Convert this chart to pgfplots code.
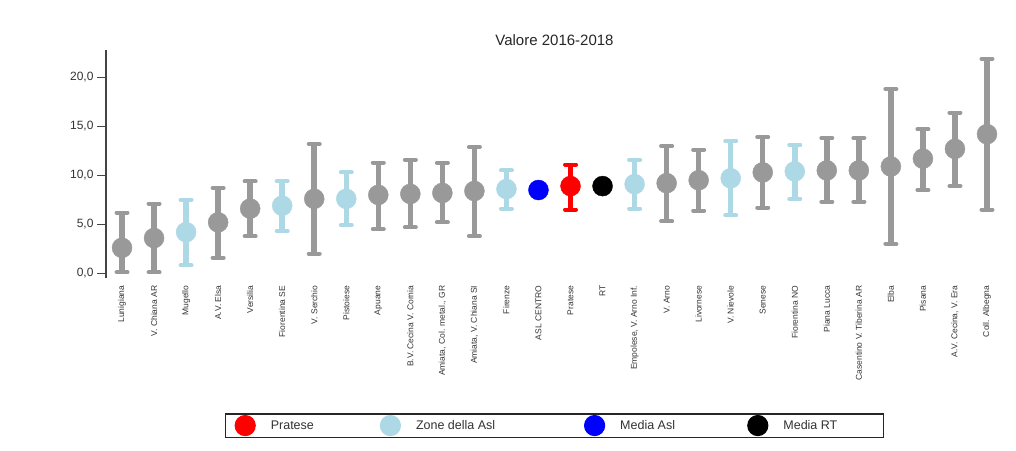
\documentclass[border=0pt]{standalone}
\usepackage{fontspec}
\setmainfont{Liberation Sans}
\usepackage{pgfplots}
\usepackage{pgfplotstable}
\pgfplotsset{compat=1.18}

\definecolor{grigio}{HTML}{999999}
\definecolor{azzurro}{HTML}{ADD8E6}
\definecolor{assi}{HTML}{444444}

% x, valore, limite inferiore, limite superiore
\pgfplotstableread{
x y lo hi
0 2.6 0.1 6.2
1 3.6 0.1 7.1
3 5.2 1.6 8.7
4 6.6 3.8 9.4
6 7.6 2.0 13.2
8 8.0 4.5 11.3
9 8.1 4.7 11.6
10 8.2 5.2 11.3
11 8.4 3.8 12.9
17 9.2 5.3 13.0
18 9.5 6.4 12.6
20 10.3 6.7 13.9
22 10.5 7.3 13.8
23 10.5 7.3 13.8
24 10.9 3.0 18.8
25 11.7 8.5 14.7
26 12.7 8.9 16.4
27 14.2 6.5 21.9
}\altre
\pgfplotstableread{
x y lo hi
2 4.2 0.8 7.5
5 6.9 4.3 9.4
7 7.6 4.9 10.3
12 8.6 6.6 10.5
16 9.1 6.6 11.6
19 9.7 5.9 13.5
21 10.4 7.6 13.1
}\zone
\pgfplotstableread{
x y lo hi
14 8.9 6.5 11.1
}\pratese

\begin{document}
\begin{tikzpicture}
\useasboundingbox (0,0) rectangle (1016pt,450pt);
\begin{axis}[
  at={(106pt,171.8pt)}, anchor=south west,
  scale only axis, width=897pt, height=228.3pt,
  clip=false,
  xmin=-0.5, xmax=27.5, ymin=-0.5, ymax=22.8,
  axis y line*=left, axis x line*=bottom,
  x axis line style={draw=none},
  y axis line style={line width=2pt, color=assi},
  xtick={0,...,27},
  xticklabels={Lunigiana, V. Chiana AR, Mugello, A.V. Elsa, Versilia, Fiorentina SE,
    V. Serchio, Pistoiese, Apuane, B.V. Cecina V. Cornia, {Amiata, Col. metal., GR},
    {Amiata, V. Chiana SI}, Firenze, ASL CENTRO, Pratese, RT, {Empolese, V. Arno Inf.},
    V. Arno, Livornese, V. Nievole, Senese, Fiorentina NO, Piana Lucca,
    Casentino V. Tiberina AR, Elba, Pisana, {A.V. Cecina, V. Era}, Coll. Albegna},
  xtick style={draw=none},
  xticklabel shift=-5pt,
  xticklabel style={rotate=90, anchor=east, font=\fontsize{8.5}{10}\selectfont, text=black!80},
  ytick={0,5,10,15,20},
  tick align=outside, major tick length=9pt,
  ytick style={line width=1.2pt, color=assi},
  yticklabel style={font=\fontsize{12}{14}\selectfont, text=black!80},
  /pgf/number format/.cd, fixed, fixed zerofill, precision=1, use comma, assume math mode=true,
  /pgfplots/.cd,
  title={Valore 2016-2018},
  title style={at={(axis description cs:0.5,1.018)}, anchor=center, font=\fontsize{15}{18}\selectfont, text=black!85},
  legend style={at={(axis description cs:0.5,-0.592)}, anchor=north, legend columns=4,
    draw=black!85, line width=1.2pt, inner xsep=9pt, inner ysep=1pt,
    font=\fontsize{12.5}{14}\selectfont, text=black!80,
    /tikz/every odd column/.append style={column sep=13pt}},
  err/.style={only marks, mark=*, mark size=10pt,
    error bars/.cd, y dir=both, y explicit,
    error bar style={line width=5.5pt},
    error mark=|, error mark options={line width=4pt, mark size=5.5pt, line cap=round},
    /pgfplots/.cd},
]
\addplot[grigio, forget plot, err] table[x=x, y=y,
  y error plus expr=\thisrow{hi}-\thisrow{y}, y error minus expr=\thisrow{y}-\thisrow{lo}] {\altre};
\addplot[red, legend image code/.code={\fill[red] (10pt,0pt) circle (10pt);}, err] table[x=x, y=y,
  y error plus expr=\thisrow{hi}-\thisrow{y}, y error minus expr=\thisrow{y}-\thisrow{lo}] {\pratese};
\addlegendentry{\makebox[107pt][l]{Pratese}}
\addplot[azzurro, legend image code/.code={\fill[azzurro] (10pt,0pt) circle (10pt);}, err] table[x=x, y=y,
  y error plus expr=\thisrow{hi}-\thisrow{y}, y error minus expr=\thisrow{y}-\thisrow{lo}] {\zone};
\addlegendentry{\makebox[166pt][l]{Zone della Asl}}
\addplot[blue, only marks, mark=*, mark size=10pt, legend image code/.code={\fill[blue] (10pt,0pt) circle (10pt);}]
  coordinates {(13,8.5)};
\addlegendentry{\makebox[125pt][l]{Media Asl}}
\addplot[black, only marks, mark=*, mark size=10pt, legend image code/.code={\fill[black] (10pt,0pt) circle (10pt);}]
  coordinates {(15,8.9)};
\addlegendentry{\makebox[89pt][l]{Media RT}}
\end{axis}
\end{tikzpicture}
\end{document}
